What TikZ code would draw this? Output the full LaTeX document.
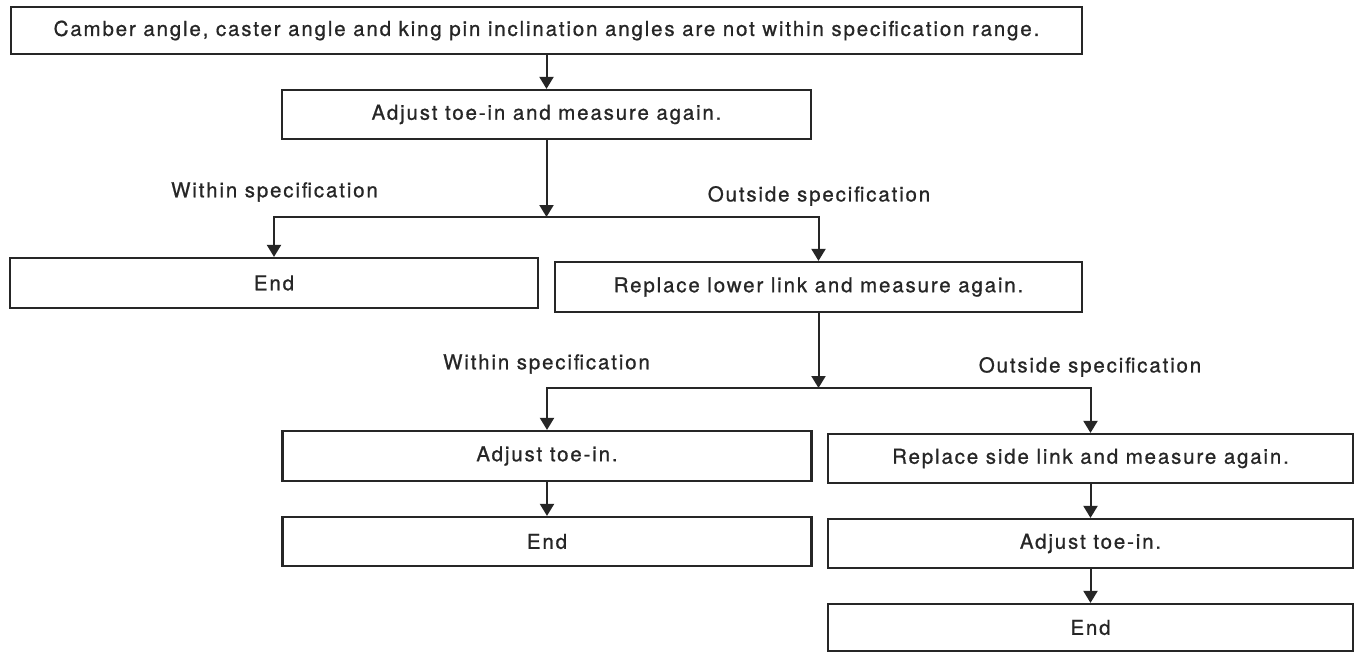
\documentclass[tikz,border=0pt]{standalone}
\usepackage{fontspec}
\setmainfont{TeX Gyre Heros}[LetterSpace=9, FakeBold=0.8]
\usetikzlibrary{arrows.meta}
\definecolor{ink}{HTML}{262626}
\begin{document}
\begin{tikzpicture}[x=1pt,y=-1pt,
  box/.style={draw=ink, line width=2.2pt, inner sep=0pt, text=ink,
    font=\fontsize{20.5}{24}\selectfont},
  lbl/.style={inner sep=0pt, text=ink, font=\fontsize{20.5}{24}\selectfont},
  arr/.style={draw=ink, line width=2pt, -{Triangle[length=12pt,width=14pt]}}]
\useasboundingbox (0,0) rectangle (1358,653);
\fill[white] (0,0) rectangle (1358,653);

\node[box, minimum width=1071pt, minimum height=47pt] (b1) at (546.5,30.5)
  {Camber angle, caster angle and king pin inclination angles are not within specification range.};
\node[box, minimum width=529pt, minimum height=49pt] (b2) at (546.5,114.5)
  {Adjust toe-in and measure again.};
\node[box, minimum width=528pt, minimum height=50pt] (e1) at (274,283) {End};
\node[box, minimum width=527pt, minimum height=50pt] (r1) at (818.5,287)
  {Replace lower link and measure again.};
\node[box, minimum width=529pt, minimum height=50pt] (a1) at (547,456) {Adjust toe-in.};
\node[box, minimum width=529pt, minimum height=49pt] (e2) at (547,541.5) {End};
\node[box, minimum width=525pt, minimum height=49pt] (s1) at (1090.5,458.5)
  {Replace side link and measure again.};
\node[box, minimum width=525pt, minimum height=49pt] (a2) at (1090.5,543.5) {Adjust toe-in.};
\node[box, minimum width=525pt, minimum height=47pt] (e3) at (1090.5,627.5) {End};

\node[lbl] (w1) at (274.5,192) {Within specification};
\node[lbl] (o1) at (819,196) {Outside specification};
\node[lbl] (w2) at (546.5,364) {Within specification};
\node[lbl] (o2) at (1090,367) {Outside specification};

\coordinate (j1) at (546.5,217);
\coordinate (j2) at (818.5,388);

\draw[arr] (b1.south) -- (b2.north);
\draw[arr] (b2.south) -- (j1);
\draw[arr] (j1) -| (e1.north);
\draw[arr] (j1) -| (r1.north);
\draw[arr] (r1.south) -- (j2);
\draw[arr] (j2) -| (a1.north);
\draw[arr] (j2) -| (s1.north);
\draw[arr] (a1.south) -- (e2.north);
\draw[arr] (s1.south) -- (a2.north);
\draw[arr] (a2.south) -- (e3.north);
\end{tikzpicture}
\end{document}
